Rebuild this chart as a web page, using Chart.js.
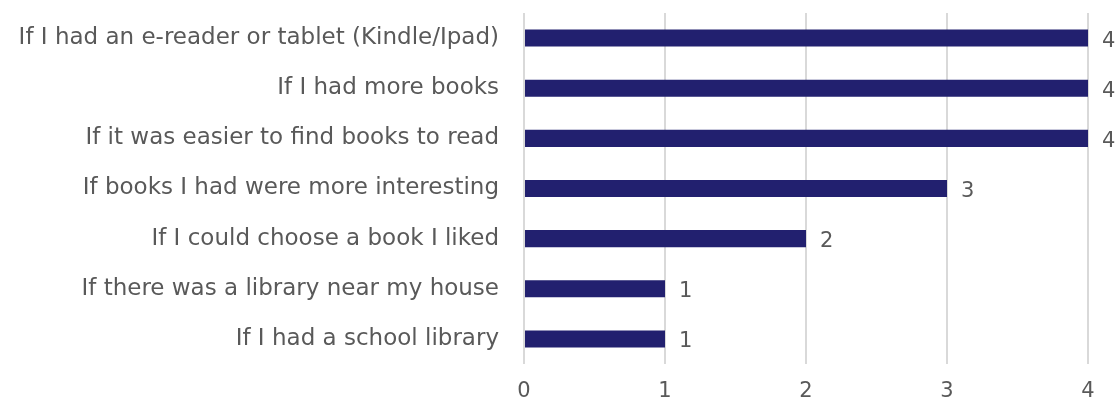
<!DOCTYPE html>
<html><head><meta charset="utf-8">
<script src="https://cdn.jsdelivr.net/npm/chart.js@4/dist/chart.umd.min.js"></script>
<style>html,body{margin:0;padding:0;background:#fff}#w{width:1116px;height:403px}</style>
</head><body><div id="w"><canvas id="c"></canvas></div>
<script>
const categories = [
  "If I had an e-reader or tablet (Kindle/Ipad)",
  "If I had more books",
  "If it was easier to find books to read",
  "If books I had were more interesting",
  "If I could choose a book I liked",
  "If there was a library near my house",
  "If I had a school library"
];
const values = [4, 4, 4, 3, 2, 1, 1];
const xTicks = [0, 1, 2, 3, 4];

const FONT = "'DejaVu Sans', sans-serif";
const TXT = "#595959";

const valueLabels = {
  id: 'valueLabels',
  afterDatasetsDraw(chart) {
    const ctx = chart.ctx;
    const meta = chart.getDatasetMeta(0);
    ctx.save();
    ctx.font = "21px " + FONT;
    ctx.fillStyle = TXT;
    ctx.textAlign = 'left';
    ctx.textBaseline = 'middle';
    meta.data.forEach((bar, i) => {
      ctx.fillText(String(values[i]), bar.x + 14, bar.y + 3);
    });
    ctx.restore();
  }
};

new Chart(document.getElementById('c'), {
  type: 'bar',
  data: {
    labels: categories,
    datasets: [{
      data: values,
      backgroundColor: '#22206F',
      borderWidth: 0,
      barPercentage: 0.68,
      categoryPercentage: 0.5
    }]
  },
  options: {
    indexAxis: 'y',
    responsive: true,
    maintainAspectRatio: false,
    animation: false,
    layout: { padding: { top: 13, right: 28, bottom: 2, left: 0 } },
    plugins: { legend: { display: false }, tooltip: { enabled: false } },
    scales: {
      x: {
        min: 0, max: 4,
        afterBuildTicks(scale) { scale.ticks = xTicks.map(v => ({ value: v })); },
        afterFit(scale) { scale.paddingLeft = 0; scale.paddingRight = 0; scale.height = 37; },
        grid: { color: '#d9d9d9', lineWidth: 2, drawTicks: false },
        border: { display: false },
        ticks: { color: TXT, font: { family: FONT, size: 21 }, padding: 15 }
      },
      y: {
        grid: { display: false },
        border: { display: false },
        afterFit(scale) { scale.width = 524; scale.paddingTop = 0; scale.paddingBottom = 0; },
        ticks: { color: TXT, font: { family: FONT, size: 23 }, padding: 17, autoSkip: false }
      }
    }
  },
  plugins: [valueLabels]
});
</script>
</body></html>
